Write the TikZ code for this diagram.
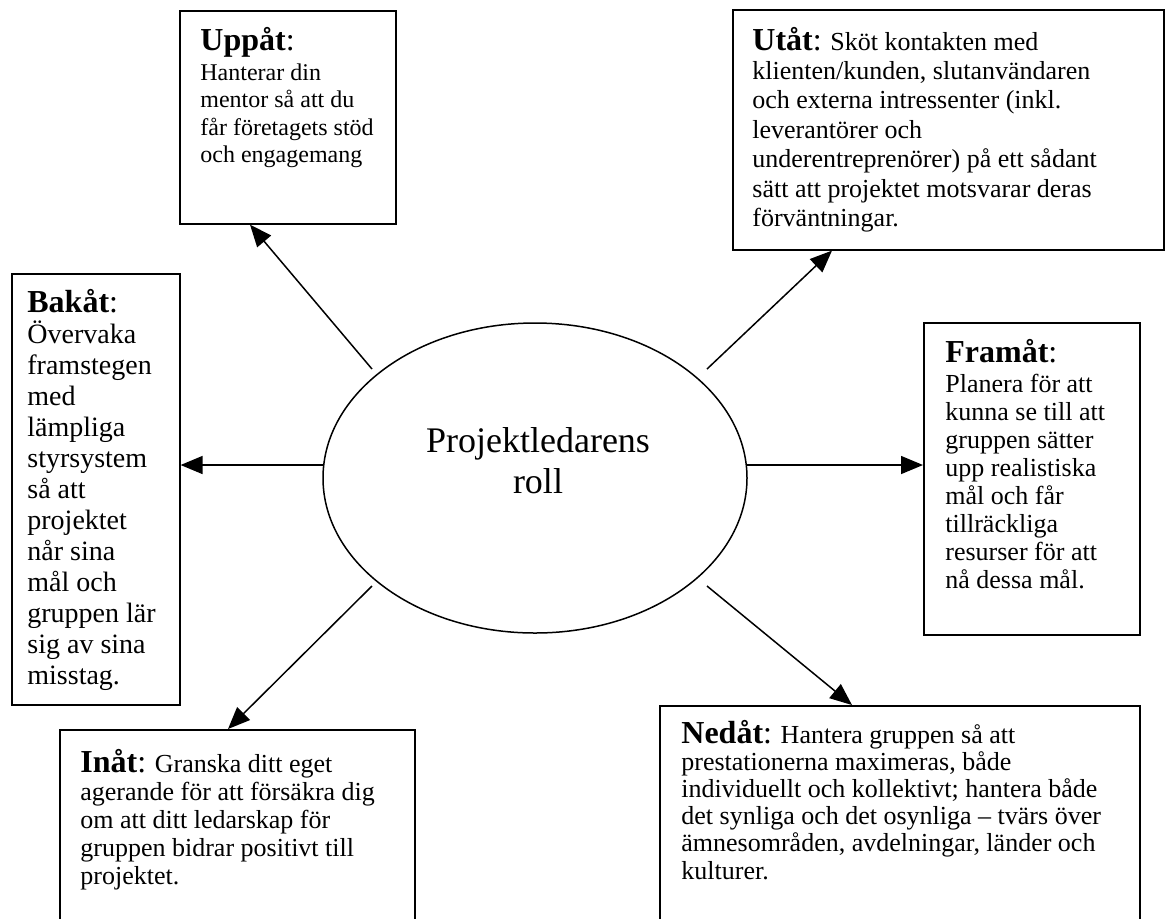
\documentclass[tikz,border=0pt]{standalone}
\usepackage{fontspec}
\setmainfont{Liberation Serif}
\usetikzlibrary{arrows.meta,shapes.geometric}
\tikzset{
  box/.style={draw=black, line width=0.8pt, rectangle, anchor=north west, inner sep=0pt, fill=white},
  txt/.style={anchor=base west, inner sep=0pt, align=left},
  arr/.style={line width=0.75pt, -{Triangle[length=11pt,width=9pt]}}
}
\newcommand{\hdr}[1]{{\fontsize{16}{14}\selectfont\textbf{#1}:}}
\begin{document}
\begin{tikzpicture}[x=0.5pt,y=-0.5pt]
\useasboundingbox (0,0) rectangle (1167,918);
\clip (0,0) rectangle (1167,918);
\fill[white] (0,0) rectangle (1167,918);
% boxes
\node[box, minimum width=108pt, minimum height=106.5pt] (up) at (179,10) {};
\node[box, minimum width=215.5pt, minimum height=120pt] (out) at (732,9) {};
\node[box, minimum width=84pt, minimum height=215.5pt] (back) at (11,273) {};
\node[box, minimum width=108pt, minimum height=156pt] (fwd) at (923,322) {};
\node[box, minimum width=177.5pt, minimum height=125pt] (in) at (59,729) {};
\node[box, minimum width=240pt, minimum height=130pt] (down) at (659,705) {};
% ellipse
\node[draw=black, line width=0.75pt, ellipse, minimum width=212pt, minimum height=155pt, inner sep=0pt] (c) at (535,478) {};
\node[anchor=base, inner sep=0pt] (ctext) at (538,452) {\parbox[t]{160pt}{\centering\fontsize{18}{20.7}\selectfont Projektledarens\\ roll}};
% texts
\node[txt] (uptxt) at (200,50) {\parbox[t]{110pt}{\raggedright\fontsize{12}{13.8}\selectfont
\hdr{Uppåt}\\[1.2pt]
Hanterar din\\ mentor så att du\\ får företagets stöd\\ och engagemang}};
\node[txt] (outtxt) at (752,50) {\parbox[t]{215pt}{\raggedright\fontsize{13}{14.7}\selectfont
\hdr{Utåt} Sköt kontakten med\\
klienten/kunden, slutanvändaren\\
och externa intressenter (inkl.\\
leverantörer och\\
underentreprenörer) på ett sådant\\
sätt att projektet motsvarar deras\\
förväntningar.}};
\node[txt] (backtxt) at (27,312) {\parbox[t]{90pt}{\raggedright\fontsize{14}{15.5}\selectfont
\hdr{Bakåt}\\
Övervaka\\ framstegen\\ med\\ lämpliga\\ styrsystem\\ så att\\ projektet\\ når sina\\ mål och\\ gruppen lär\\ sig av sina\\ misstag.}};
\node[txt] (fwdtxt) at (945,362) {\parbox[t]{110pt}{\raggedright\fontsize{13}{14}\selectfont
\hdr{Framåt}\\[1pt]
Planera för att\\ kunna se till att\\ gruppen sätter\\ upp realistiska\\ mål och får\\ tillräckliga\\ resurser för att\\ nå dessa mål.}};
\node[txt] (intxt) at (80,772) {\parbox[t]{180pt}{\raggedright\fontsize{13}{14}\selectfont
\hdr{Inåt} Granska ditt eget\\
agerande för att försäkra dig\\
om att ditt ledarskap för\\
gruppen bidrar positivt till\\
projektet.}};
\node[txt] (downtxt) at (681,743) {\parbox[t]{240pt}{\raggedright\fontsize{13}{13.6}\selectfont
\hdr{Nedåt} Hantera gruppen så att\\
prestationerna maximeras, både\\
individuellt och kollektivt; hantera både\\
det synliga och det osynliga – tvärs över\\
ämnesområden, avdelningar, länder och\\
kulturer.}};
% connector start points
\coordinate (sUp) at (372,369);
\coordinate (sOut) at (707,369);
\coordinate (sBack) at (323,465);
\coordinate (sFwd) at (746,465);
\coordinate (sIn) at (372,586);
\coordinate (sDown) at (707,586);
% connectors
\draw[arr] (sUp) -- ([xshift=35.5pt]up.south west);
\draw[arr] (sOut) -- ([xshift=50pt]out.south west);
\draw[arr] (sBack) -- (sBack -| back.east);
\draw[arr] (sFwd) -- (sFwd -| fwd.west);
\draw[arr] (sIn) -- ([xshift=84.5pt]in.north west);
\draw[arr] (sDown) -- ([xshift=96.5pt]down.north west);
\end{tikzpicture}
\end{document}
